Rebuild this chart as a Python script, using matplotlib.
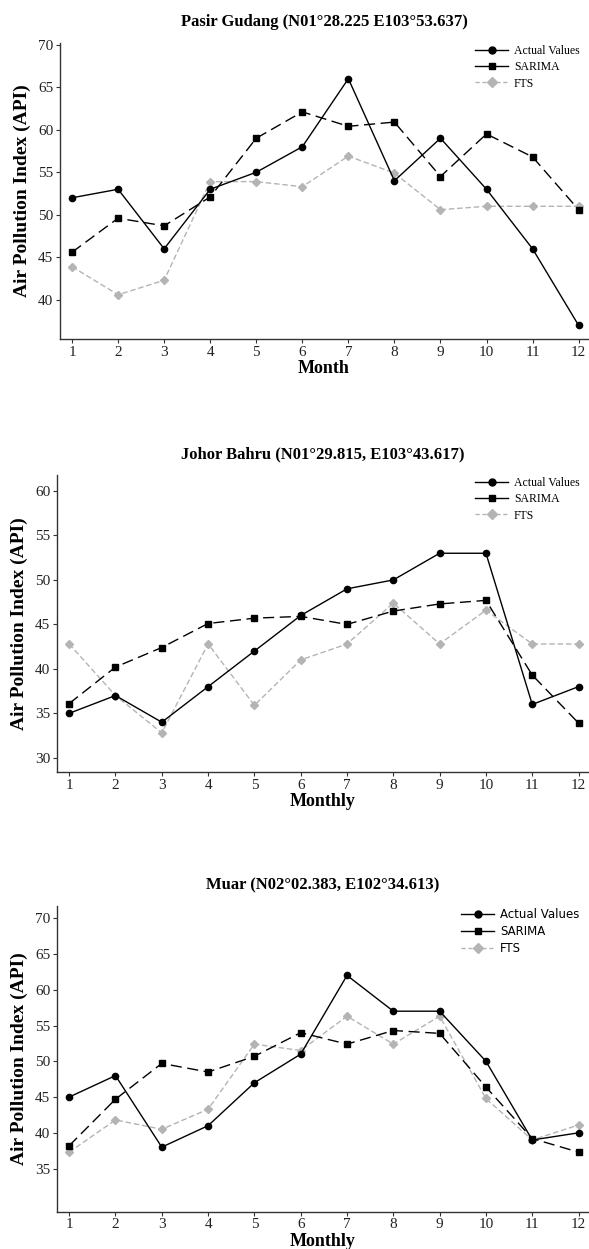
"""
Monthly API: actual values vs SARIMA and FTS forecasts for three Johor stations
"""

import matplotlib
matplotlib.use("Agg")
import matplotlib.pyplot as plt
from matplotlib.lines import Line2D

plt.rcParams["font.family"] = ["Liberation Serif", "DejaVu Serif"]

months = list(range(1, 13))

titles = [
    "Pasir Gudang (N01°28.225 E103°53.637)",
    "Johor Bahru (N01°29.815, E103°43.617)",
    "Muar (N02°02.383, E102°34.613)",
]
xlabels = ["Month", "Monthly", "Monthly"]

pg_actual = [52, 53, 46, 53, 55, 58, 66, 54, 59, 53, 46, 37]
pg_sarima = [45.6, 49.6, 48.7, 52.1, 59.0, 62.1, 60.4, 60.9, 54.5, 59.5, 56.8, 50.6]
pg_fts = [43.9, 40.6, 42.3, 53.9, 53.9, 53.3, 56.9, 54.9, 50.6, 51.0, 51.0, 51.0]

jb_actual = [35, 37, 34, 38, 42, 46, 49, 50, 53, 53, 36, 38]
jb_sarima = [36.1, 40.2, 42.4, 45.1, 45.7, 45.9, 45.0, 46.5, 47.3, 47.7, 39.3, 33.9]
jb_fts = [42.8, 37.0, 32.8, 42.8, 35.9, 41.0, 42.8, 47.4, 42.8, 46.6, 42.8, 42.8]

muar_actual = [45, 48, 38, 41, 47, 51, 62, 57, 57, 50, 39, 40]
muar_sarima = [38.2, 44.7, 49.7, 48.5, 50.7, 54.0, 52.4, 54.3, 53.9, 46.4, 39.2, 37.3]
muar_fts = [37.3, 41.8, 40.5, 43.3, 52.4, 51.5, 56.3, 52.4, 56.3, 44.8, 39.0, 41.1]

yticks = [[40, 45, 50, 55, 60, 65, 70],
          [30, 35, 40, 45, 50, 55, 60],
          [35, 40, 45, 50, 55, 60, 65, 70]]
ylims = [(35.4, 70.2), (28.4, 61.8), (29.0, 71.7)]

# axes boxes in figure fractions
boxes = [
    [0.102, 0.7286, 0.896, 0.2370],
    [0.097, 0.3819, 0.901, 0.2378],
    [0.097, 0.0300, 0.901, 0.2446],
]

series = [
    (pg_actual, pg_sarima, pg_fts),
    (jb_actual, jb_sarima, jb_fts),
    (muar_actual, muar_sarima, muar_fts),
]

GREY = "#b4b4b4"
actual_style = dict(color="black", lw=1.0, marker="o", ms=4.5)
sarima_style = dict(color="black", lw=1.0, marker="s", ms=4.5, dashes=(8, 4))
fts_style = dict(color=GREY, lw=1.0, marker="D", ms=4.5, dashes=(4, 2))

fig = plt.figure(figsize=(5.89, 12.49), dpi=100)

for i, (actual, sarima, fts) in enumerate(series):
    ax = fig.add_axes(boxes[i])
    ax.plot(months, fts, **fts_style, zorder=2)
    ax.plot(months, sarima, **sarima_style, zorder=3)
    ax.plot(months, actual, **actual_style, zorder=4)

    ax.set_xlim(0.74, 12.2)
    ax.set_ylim(*ylims[i])
    ax.set_xticks(months)
    ax.set_yticks(yticks[i])
    ax.tick_params(labelsize=11, length=3, width=0.8, colors="#333333",
                   labelcolor="#222222", pad=2)
    for side in ["top", "right"]:
        ax.spines[side].set_visible(False)
    for side in ["left", "bottom"]:
        ax.spines[side].set_color("#333333")
        ax.spines[side].set_linewidth(1.0)

    ax.set_title(titles[i], fontsize=12, fontweight="bold", pad=12)
    ax.set_xlabel(xlabels[i], fontsize=13, fontweight="bold", labelpad=1)
    ax.set_ylabel("Air Pollution Index (API)", fontsize=14, fontweight="bold",
                  labelpad=5)

    handles = [
        Line2D([], [], color="black", lw=1.0, marker="o", ms=5),
        Line2D([], [], color="black", lw=1.0, marker="s", ms=5),
        Line2D([], [], color=GREY, lw=1.0, marker="D", ms=5, dashes=(3, 2)),
    ]
    leg_font = {"size": 8.5}
    if i == 2:
        leg_font = {"size": 8.5, "family": ["DejaVu Sans"]}
    ax.legend(handles, ["Actual Values", "SARIMA", "FTS"], loc="upper right",
              bbox_to_anchor=(1.0, 1.02), frameon=False, prop=leg_font,
              handlelength=2.8, handletextpad=0.5, labelspacing=0.35,
              borderaxespad=0.3)

plt.savefig("out.png", dpi=100)
